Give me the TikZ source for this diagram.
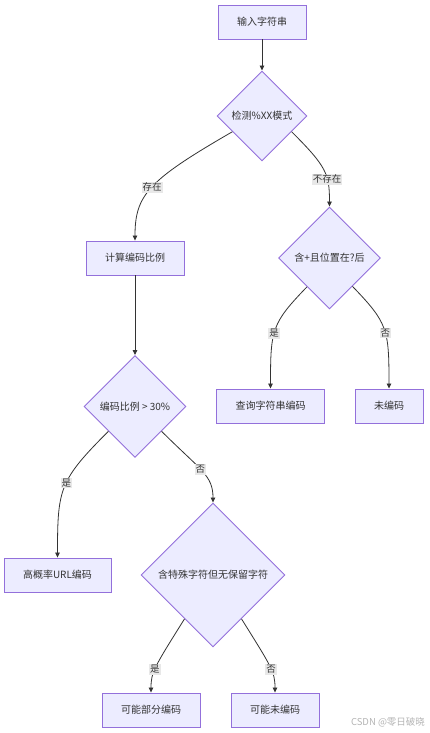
\documentclass[tikz,border=0pt]{standalone}
\usepackage{fontspec}
\setmainfont{Noto Sans CJK SC}
\usetikzlibrary{arrows.meta,shapes.geometric}
\definecolor{mFill}{HTML}{ECECFF}
\definecolor{mStroke}{HTML}{9370DB}
\definecolor{mLine}{HTML}{333333}
\definecolor{mLabel}{HTML}{E8E8E8}
\definecolor{mMark}{HTML}{B4B4B4}

\begin{document}
\begin{tikzpicture}[
			x=1pt,y=1pt,
			font=\fontsize{10}{12}\selectfont,
			text=mLine,
			procbox/.style={
				draw=mStroke,
				fill=mFill,
				line width=0.9pt,
				minimum height=34pt,
				inner xsep=19pt,
				inner ysep=0pt
			},
			decbox/.style={
				diamond,
				aspect=1,
				draw=mStroke,
				fill=mFill,
				line width=0.9pt,
				inner sep=0pt
			},
			flow/.style={
				draw=mLine,
				line width=0.8pt,
				-{Triangle[length=5pt,width=4.5pt]}
			},
			edgelbl/.style={
				fill=mLabel,
				inner sep=1pt,
				font=\fontsize{9.5}{11}\selectfont
			}
			]
			\useasboundingbox (0,0) rectangle (429,-733);
			% nodes
			\node[procbox] (input) at (262,-22) {输入字符串};
			\node[decbox,minimum size=90pt] (detect) at (262,-116) {检测\%XX模式};
			\node[procbox] (calc) at (135,-258) {计算编码比例};
			\node[decbox,minimum size=102pt] (tail) at (329.5,-258) {含+且位置在?后};
			\node[procbox] (query) at (270.5,-406) {查询字符串编码};
			\node[procbox] (noenc) at (389,-406) {未编码};
			\node[decbox,minimum size=102pt] (ratio) at (135,-406.5) {编码比例 > 30\%};
			\node[procbox] (urlenc) at (57.5,-575) {高概率URL编码};
			\node[decbox,minimum size=144pt] (special) at (213,-575) {含特殊字符但无保留字符};
			\node[procbox] (partial) at (151,-710) {可能部分编码};
			\node[procbox] (maybe) at (275,-710) {可能未编码};
			\node[text=mMark,font=\fontsize{9.5}{11}\selectfont] (mark) at (388,-722) {CSDN @零日破晓};
			% connectors
			\draw[flow] (input) -- (detect);
			\draw[flow] (detect.208) to[out=210,in=90,out looseness=1.7,in looseness=0.8] node[edgelbl,pos=0.5] {存在} (calc.north);
			\draw[flow] (detect.332) to[out=315,in=90,out looseness=1.5,in looseness=1] node[edgelbl,pos=0.65] {不存在} (tail.north);
			\draw[flow] (calc) -- (ratio);
			\draw[flow] (tail.232) to[out=226,in=90,out looseness=1.2,in looseness=1.4] node[edgelbl,pos=0.55] {是} (query.north);
			\draw[flow] (tail.309) to[out=314,in=90,out looseness=1.2,in looseness=1.4] node[edgelbl,pos=0.55] {否} (noenc.north);
			\draw[flow] (ratio.223) to[out=225,in=90,out looseness=1.3,in looseness=1.3] node[edgelbl,pos=0.46] {是} (urlenc.north);
			\draw[flow] (ratio.317) to[out=315,in=90,out looseness=1.6,in looseness=0.8] node[edgelbl,pos=0.47] {否} (special.north);
			\draw[flow] (special.237) to[out=238,in=90,out looseness=1.8,in looseness=0.65] node[edgelbl,pos=0.56] {是} (partial.north);
			\draw[flow] (special.303) to[out=302,in=90,out looseness=1.8,in looseness=0.65] node[edgelbl,pos=0.56] {否} (maybe.north);
		\end{tikzpicture}
\end{document}
